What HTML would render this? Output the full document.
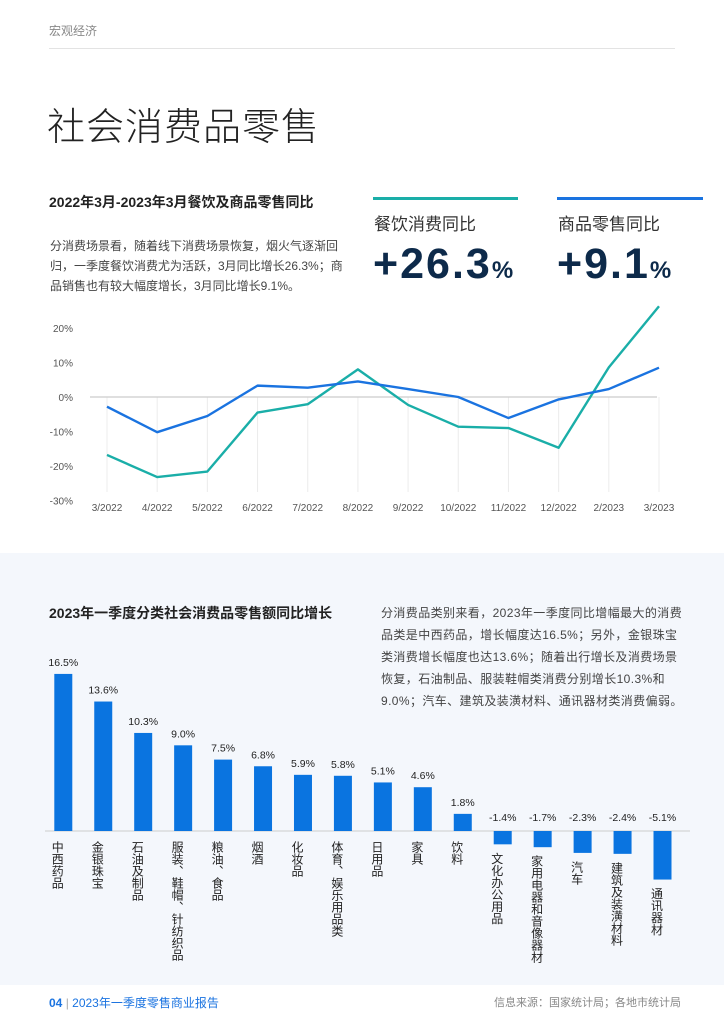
<!DOCTYPE html>
<html><head><meta charset="utf-8"><style>
*{margin:0;padding:0;box-sizing:border-box}
body{width:724px;height:1024px;position:relative;background:#fff;font-family:"Liberation Sans","Noto Sans CJK SC",sans-serif;color:#333;overflow:hidden}
.a{position:absolute}
</style></head><body>
<div class="a" style="left:49px;top:22px;font-size:12px;color:#888">宏观经济</div>
<div class="a" style="left:49px;top:48px;width:626px;height:1px;background:#e3e3e3"></div>
<div class="a" style="left:47px;top:96px;font-size:38px;color:#222;letter-spacing:1px;font-weight:300">社会消费品零售</div>
<div class="a" style="left:49px;top:192px;font-size:14px;font-weight:bold;color:#222">2022年3月-2023年3月餐饮及商品零售同比</div>
<div class="a" style="left:50px;top:236px;width:296px;font-size:12px;line-height:20px;color:#444">分消费场景看，随着线下消费场景恢复，烟火气逐渐回归，一季度餐饮消费尤为活跃，3月同比增长26.3%；商品销售也有较大幅度增长，3月同比增长9.1%。</div>

<div class="a" style="left:373px;top:197px;width:145px;height:3px;background:#1aaea8"></div>
<div class="a" style="left:374px;top:210px;font-size:17px;color:#333">餐饮消费同比</div>
<div class="a" style="left:373px;top:240px;font-size:43px;font-weight:bold;color:#0d2a4a;letter-spacing:2px">+26.3<span style="font-size:24px;letter-spacing:0">%</span></div>
<div class="a" style="left:557px;top:197px;width:146px;height:3px;background:#1a73e0"></div>
<div class="a" style="left:558px;top:210px;font-size:17px;color:#333">商品零售同比</div>
<div class="a" style="left:557px;top:240px;font-size:43px;font-weight:bold;color:#0d2a4a;letter-spacing:2px">+9.1<span style="font-size:24px;letter-spacing:0">%</span></div>

<svg class="a" style="left:0;top:300px" width="724" height="230" id="lc"></svg>

<div class="a" style="left:0;top:553px;width:724px;height:432px;background:#f4f7fc"></div>
<div class="a" style="left:49px;top:603px;font-size:14px;font-weight:bold;color:#222">2023年一季度分类社会消费品零售额同比增长</div>
<div class="a" style="left:381px;top:602px;width:306px;font-size:12px;line-height:22px;color:#444;letter-spacing:0.4px">分消费品类别来看，2023年一季度同比增幅最大的消费品类是中西药品，增长幅度达16.5%；另外，金银珠宝类消费增长幅度也达13.6%；随着出行增长及消费场景恢复，石油制品、服装鞋帽类消费分别增长10.3%和9.0%；汽车、建筑及装潢材料、通讯器材类消费偏弱。</div>
<svg class="a" style="left:0;top:640px" width="724" height="340" id="bc"></svg>

<div class="a" style="left:49px;top:994px;font-size:12px;color:#1a73e0"><b>04</b> <span style="color:#aaa">|</span> 2023年一季度零售商业报告</div>
<div class="a" style="left:494px;top:994px;font-size:11px;color:#888">信息来源：国家统计局；各地市统计局</div>

<script>
const months=["3/2022","4/2022","5/2022","6/2022","7/2022","8/2022","9/2022","10/2022","11/2022","12/2022","2/2023","3/2023"];
const cateringValues=[-16.8,-23.2,-21.6,-4.5,-2.1,8.0,-2.3,-8.6,-9.0,-14.7,8.6,26.3];
const retailValues=[-2.8,-10.2,-5.5,3.3,2.7,4.5,2.3,0.0,-6.1,-0.7,2.3,8.5];
const yTicks=[20,10,0,-10,-20,-30];
const yTickLabels=["20%","10%","0%","-10%","-20%","-30%"];
const categories=["中西药品","金银珠宝","石油及制品","服装、鞋帽、针纺织品","粮油、食品","烟酒","化妆品","体育、娱乐用品类","日用品","家具","饮料","文化办公用品","家用电器和音像器材","汽车","建筑及装潢材料","通讯器材"];
const growthValues=[16.5,13.6,10.3,9.0,7.5,6.8,5.9,5.8,5.1,4.6,1.8,-1.4,-1.7,-2.3,-2.4,-5.1];
const growthLabels=["16.5%","13.6%","10.3%","9.0%","7.5%","6.8%","5.9%","5.8%","5.1%","4.6%","1.8%","-1.4%","-1.7%","-2.3%","-2.4%","-5.1%"];
const NS="http://www.w3.org/2000/svg";
function mk(p,t,a){const e=document.createElementNS(NS,t);for(const k in a)e.setAttribute(k,a[k]);p.appendChild(e);return e;}
const lc=document.getElementById('lc');
const lx=i=>107+i*(659-107)/(months.length-1);
const ly=v=>97-v*3.45;
yTicks.forEach((t,i)=>{const e=mk(lc,'text',{x:73,y:ly(t)+4,'text-anchor':'end','font-size':10,fill:'#555'});e.textContent=yTickLabels[i];

});
months.forEach((m,i)=>{const g=mk(lc,'line',{x1:lx(i),x2:lx(i),y1:ly(0),y2:192,stroke:'#ececec','stroke-width':1});


const e=mk(lc,'text',{x:lx(i),y:211,'text-anchor':'middle','font-size':10,fill:'#555'});e.textContent=m;

});
const z=mk(lc,'line',{x1:90,x2:657,y1:ly(0),y2:ly(0),stroke:'#ccc','stroke-width':1.2});


function series(vals,col,name){const p=mk(lc,'polyline',{points:vals.map((v,i)=>lx(i)+','+ly(v)).join(' '),fill:'none',stroke:col,'stroke-width':2.4,'stroke-linejoin':'round'});

}
series(cateringValues,'#1aaea8','catering-line');
series(retailValues,'#1a73e0','retail-line');
const bc=document.getElementById('bc');
const bx=i=>63.3+i*(662.5-63.3)/(categories.length-1);
const base=191, k=9.52;
const bl=mk(bc,'line',{x1:45,x2:690,y1:base,y2:base,stroke:'#ccc','stroke-width':1});


categories.forEach((c,i)=>{const v=growthValues[i];const h=Math.abs(v)*k;const y=v>=0?base-h:base;
const r=mk(bc,'rect',{x:bx(i)-9,y:y,width:18,height:h,fill:'#0a74e0'});


const ty=v>=0?base-h-8:base-10;
const t=mk(bc,'text',{x:bx(i),y:ty,'text-anchor':'middle','font-size':10.5,fill:'#222'});t.textContent=growthLabels[i];


const sy=v>=0?base+10:base+h+8;
const g=mk(bc,'text',{x:bx(i)-6,y:sy,'font-size':12,fill:'#222',style:'writing-mode:vertical-rl;glyph-orientation-vertical:0'});g.textContent=c;

});
</script>
</body></html>
